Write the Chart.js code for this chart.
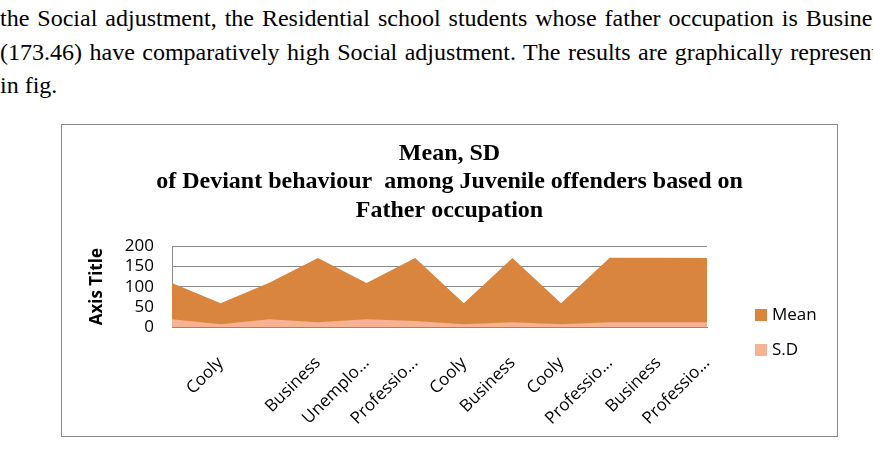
<!DOCTYPE html>
<html>
<head>
<meta charset="utf-8">
<script src="https://cdn.jsdelivr.net/npm/chart.js@4"></script>
<style>
  body { margin: 0; width: 873px; height: 452px; background: #fff; overflow: hidden; position: relative; }
  .para { position: absolute; left: 0; white-space: nowrap; font-family: 'Liberation Serif', serif; font-size: 24px; line-height: 28px; color: #000; }
  #box { position: absolute; left: 61px; top: 124px; width: 775px; height: 311px; border: 1px solid #8a8a8a; }
  #chart { position: absolute; left: 61px; top: 124px; }
  .leg { position: absolute; font-family: 'Open Sans', sans-serif; font-size: 17px; line-height: 20px; color: #000; }
  .leg span { display: inline-block; width: 12px; height: 12px; margin-right: 5px; vertical-align: -1px; }
</style>
</head>
<body>
<div class="para" style="top:4px; word-spacing:2px;">the Social adjustment, the Residential school students whose father occupation is Business</div>
<div class="para" style="top:38px; word-spacing:1.5px;">(173.46) have comparatively high Social adjustment. The results are graphically represented</div>
<div class="para" style="top:71px;">in fig.</div>

<div id="box"></div>
<canvas id="chart" width="777" height="313"></canvas>
<div class="leg" style="left:755px; top:304px;"><span style="background:#DA853D"></span>Mean</div>
<div class="leg" style="left:755px; top:339px;"><span style="background:#F5B394"></span>S.D</div>

<script>
const categories = ['', 'Cooly', '', 'Business', 'Unemplo...', 'Professio...', 'Cooly', 'Business', 'Cooly', 'Professio...', 'Business', 'Professio...'];
const meanValues = [109, 59, 110, 171, 109, 171, 59, 171, 59, 172, 172, 171];
const sdValues = [19, 7, 19, 12, 19, 15, 7, 12, 7, 12, 12, 12];
const titleLines = ['Mean, SD', 'of Deviant behaviour  among Juvenile offenders based on', 'Father occupation'];

const tickFont = { family: 'Open Sans', size: 17 };

new Chart(document.getElementById('chart'), {
  type: 'line',
  data: {
    labels: categories,
    datasets: [
      { label: 'Mean', data: meanValues, fill: 'origin', backgroundColor: '#DA853D', borderWidth: 0, pointRadius: 0, order: 2 },
      { label: 'S.D', data: sdValues, fill: 'origin', backgroundColor: '#F5B394', borderWidth: 0, pointRadius: 0, order: 1 }
    ]
  },
  options: {
    responsive: false,
    animation: false,
    plugins: {
      legend: { display: false },
      tooltip: { enabled: false },
      title: {
        display: true,
        text: titleLines,
        color: '#000',
        font: { family: 'Liberation Serif', size: 24, weight: 'bold', lineHeight: 1.2 },
        padding: { top: 15, bottom: 21 }
      }
    },
    scales: {
      x: {
        grid: { display: false },
        border: { color: '#8a8a8a' },
        ticks: { autoSkip: false, maxRotation: 45, minRotation: 45, padding: 18, color: '#000', font: tickFont },
        afterFit: s => { s.height = 110; }
      },
      y: {
        min: 0,
        max: 200,
        grid: { color: '#8a8a8a', drawTicks: false },
        border: { color: '#8a8a8a' },
        ticks: { stepSize: 50, autoSkip: false, padding: 18, color: '#000', font: tickFont },
        title: { display: true, text: 'Axis Title', color: '#000', font: { family: 'Open Sans', size: 17, weight: 'bold' }, padding: { top: 26, bottom: 0 } },
        afterFit: s => { s.width = 111; }
      },
      // empty right-hand box, keeps room for the legend
      yRight: {
        position: 'right',
        grid: { display: false },
        border: { display: false },
        ticks: { display: false },
        afterFit: s => { s.width = 131; }
      }
    }
  }
});
</script>
</body>
</html>
